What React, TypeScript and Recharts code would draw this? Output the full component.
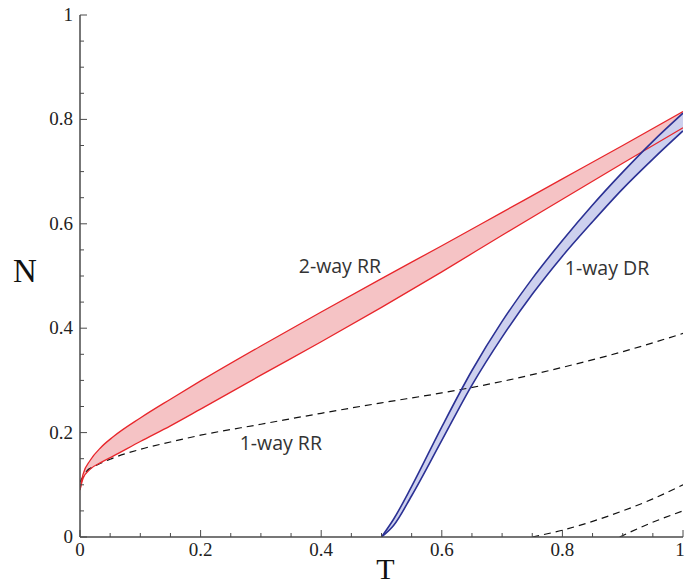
import React from 'react';
import { ComposedChart, Area, Line, XAxis, YAxis, ReferenceDot } from 'recharts';

// Tick positions (major every 0.2, minor every 0.05) and their labels
const tickValues = [0, 0.05, 0.1, 0.15, 0.2, 0.25, 0.3, 0.35, 0.4, 0.45, 0.5, 0.55, 0.6, 0.65, 0.7, 0.75, 0.8, 0.85, 0.9, 0.95, 1];
const majorLabels = ['0', '0.2', '0.4', '0.6', '0.8', '1'];

// 2-way RR band (lower / upper boundary of N versus T)
const redT = [0, 0.005, 0.017, 0.035, 0.055, 0.1, 0.15, 0.2, 0.3, 0.4, 0.5, 0.6, 0.7, 0.8, 0.9, 1];
const redUpper = [0.09, 0.12, 0.147, 0.172, 0.192, 0.228, 0.264, 0.299, 0.366, 0.431, 0.495, 0.558, 0.622, 0.686, 0.75, 0.815];
const redLower = [0.09, 0.112, 0.13, 0.143, 0.155, 0.183, 0.213, 0.245, 0.31, 0.374, 0.44, 0.508, 0.578, 0.647, 0.716, 0.784];

// 1-way DR band
const blueT = [0.5, 0.52, 0.55, 0.6, 0.65, 0.7, 0.75, 0.8, 0.85, 0.9, 0.95, 1];
const blueUpper = [0, 0.034, 0.097, 0.211, 0.319, 0.413, 0.495, 0.568, 0.636, 0.699, 0.758, 0.812];
const blueLower = [0, 0.022, 0.079, 0.185, 0.291, 0.383, 0.465, 0.538, 0.604, 0.667, 0.724, 0.778];

// 1-way RR curve
const rr1T = [0, 0.01, 0.025, 0.05, 0.1, 0.15, 0.2, 0.3, 0.4, 0.5, 0.6, 0.7, 0.8, 0.9, 1];
const rr1N = [0.105, 0.125, 0.136, 0.149, 0.168, 0.182, 0.195, 0.216, 0.237, 0.257, 0.276, 0.298, 0.325, 0.355, 0.39];

// Lower dashed curves near T = 1
const rr2T = [0.75, 0.8, 0.85, 0.9, 0.95, 1];
const rr2N = [0, 0.013, 0.03, 0.05, 0.073, 0.1];
const rr3T = [0.895, 0.945, 1];
const rr3N = [0, 0.026, 0.05];

const redBand = redT.map((T, i) => ({ T, band: [redLower[i], redUpper[i]], lo: redLower[i], hi: redUpper[i] }));
const blueBand = blueT.map((T, i) => ({ T, band: [blueLower[i], blueUpper[i]], lo: blueLower[i], hi: blueUpper[i] }));
const rr1 = rr1T.map((T, i) => ({ T, N: rr1N[i] }));
const rr2 = rr2T.map((T, i) => ({ T, N: rr2N[i] }));
const rr3 = rr3T.map((T, i) => ({ T, N: rr3N[i] }));

const axisColor = '#4a4a4a';
const serif = '"Liberation Serif", "DejaVu Serif", serif';
const sans = '"Open Sans", "Noto Sans", sans-serif';

const isMajor = (v: number) => Math.abs(v * 5 - Math.round(v * 5)) < 1e-6;
const labelFor = (v: number) => majorLabels[Math.round(v * 5)];

const BottomTick = (props: any) => {
  const { x, y, payload } = props;
  const v = payload.value;
  const major = isMajor(v);
  const last = v === 1;
  return (
    <g>
      <line x1={x} x2={x} y1={y} y2={y - (major ? 7 : 4)} stroke={axisColor} strokeWidth={1} />
      {major && (
        <text x={last ? x - 3 : x} y={y + 19} textAnchor="middle" fontFamily={serif} fontSize={19} fill="#222">
          {labelFor(v)}
        </text>
      )}
    </g>
  );
};

const TopTick = (props: any) => {
  const { x, y, payload } = props;
  const major = isMajor(payload.value);
  return <line x1={x} x2={x} y1={y} y2={y + (major ? 7 : 4)} stroke={axisColor} strokeWidth={1} />;
};

const LeftTick = (props: any) => {
  const { x, y, payload } = props;
  const v = payload.value;
  const major = isMajor(v);
  return (
    <g>
      <line x1={x} x2={x + (major ? 7 : 4)} y1={y} y2={y} stroke={axisColor} strokeWidth={1} />
      {major && (
        <text x={x - 7} y={y + 6} textAnchor="end" fontFamily={serif} fontSize={19} fill="#222">
          {labelFor(v)}
        </text>
      )}
    </g>
  );
};

const RightTick = (props: any) => {
  const { x, y, payload } = props;
  const major = isMajor(payload.value);
  return <line x1={x} x2={x - (major ? 7 : 4)} y1={y} y2={y} stroke={axisColor} strokeWidth={1} />;
};

const TLabel = (props: any) => {
  const vb = props.viewBox;
  return (
    <text x={vb.x + vb.width / 2 + 4} y={vb.y + 42} textAnchor="middle" fontFamily={serif} fontSize={30} fill="#111">
      T
    </text>
  );
};

const NLabel = (props: any) => {
  const vb = props.viewBox;
  return (
    <text x={vb.x + 13} y={vb.y + vb.height / 2 + 6} textAnchor="start" fontFamily={serif} fontSize={33} fill="#111">
      N
    </text>
  );
};

const annotation = (value: string) => ({
  value,
  position: 'center' as const,
  fill: '#333',
  fontSize: 19.5,
  fontFamily: sans,
});

export default function App() {
  return (
    <div style={{ position: 'absolute', left: 0, top: 0, background: '#fff' }}>
      <ComposedChart width={685} height={584} margin={{ top: 15, right: 2, bottom: 0, left: 0 }}>
        <XAxis
          xAxisId="b"
          dataKey="T"
          type="number"
          domain={[0, 1]}
          ticks={tickValues}
          interval={0}
          tickSize={0}
          tickMargin={0}
          tickLine={false}
          tick={<BottomTick />}
          height={47}
          axisLine={{ stroke: axisColor, strokeWidth: 1.5 }}
          allowDataOverflow
          label={<TLabel />}
        />
        <XAxis
          xAxisId="t"
          orientation="top"
          dataKey="T"
          type="number"
          domain={[0, 1]}
          ticks={tickValues}
          interval={0}
          tickSize={0}
          tickMargin={0}
          tickLine={false}
          tick={<TopTick />}
          height={0}
          axisLine={{ stroke: axisColor, strokeWidth: 1.5 }}
          allowDataOverflow
        />
        <YAxis
          yAxisId="l"
          type="number"
          domain={[0, 1]}
          ticks={tickValues}
          interval={0}
          tickSize={0}
          tickMargin={0}
          tickLine={false}
          tick={<LeftTick />}
          width={80}
          axisLine={{ stroke: axisColor, strokeWidth: 1.5 }}
          allowDataOverflow
          label={<NLabel />}
        />
        <YAxis
          yAxisId="r"
          orientation="right"
          type="number"
          domain={[0, 1]}
          ticks={tickValues}
          interval={0}
          tickSize={0}
          tickMargin={0}
          tickLine={false}
          tick={<RightTick />}
          width={0}
          axisLine={{ stroke: axisColor, strokeWidth: 1.5 }}
          allowDataOverflow
        />

        <Line xAxisId="b" yAxisId="l" data={rr1} dataKey="N" type="monotone" stroke="#111" strokeWidth={1.2} strokeDasharray="7 5" dot={false} activeDot={false} isAnimationActive={false} />
        <Line xAxisId="b" yAxisId="l" data={rr2} dataKey="N" type="monotone" stroke="#111" strokeWidth={1.2} strokeDasharray="7 5" dot={false} activeDot={false} isAnimationActive={false} />
        <Line xAxisId="b" yAxisId="l" data={rr3} dataKey="N" type="monotone" stroke="#111" strokeWidth={1.2} strokeDasharray="7 5" dot={false} activeDot={false} isAnimationActive={false} />

        <Area xAxisId="b" yAxisId="l" data={redBand} dataKey="band" type="monotone" fill="#f5c3c5" fillOpacity={1} stroke="none" dot={false} activeDot={false} isAnimationActive={false} />
        <Line xAxisId="b" yAxisId="l" data={redBand} dataKey="hi" type="monotone" stroke="#e8262b" strokeWidth={1.3} dot={false} activeDot={false} isAnimationActive={false} />
        <Line xAxisId="b" yAxisId="l" data={redBand} dataKey="lo" type="monotone" stroke="#e8262b" strokeWidth={1.3} dot={false} activeDot={false} isAnimationActive={false} />

        <Area xAxisId="b" yAxisId="l" data={blueBand} dataKey="band" type="monotone" fill="#cdd0ee" fillOpacity={1} stroke="none" dot={false} activeDot={false} isAnimationActive={false} />
        <Line xAxisId="b" yAxisId="l" data={blueBand} dataKey="hi" type="monotone" stroke="#2b3194" strokeWidth={1.6} dot={false} activeDot={false} isAnimationActive={false} />
        <Line xAxisId="b" yAxisId="l" data={blueBand} dataKey="lo" type="monotone" stroke="#2b3194" strokeWidth={1.6} dot={false} activeDot={false} isAnimationActive={false} />

        <ReferenceDot xAxisId="b" yAxisId="l" x={0.431} y={0.519} r={0} stroke="none" fill="none" label={annotation('2-way RR')} />
        <ReferenceDot xAxisId="b" yAxisId="l" x={0.874} y={0.515} r={0} stroke="none" fill="none" label={annotation('1-way DR')} />
        <ReferenceDot xAxisId="b" yAxisId="l" x={0.333} y={0.18} r={0} stroke="none" fill="none" label={annotation('1-way RR')} />
      </ComposedChart>
    </div>
  );
}
